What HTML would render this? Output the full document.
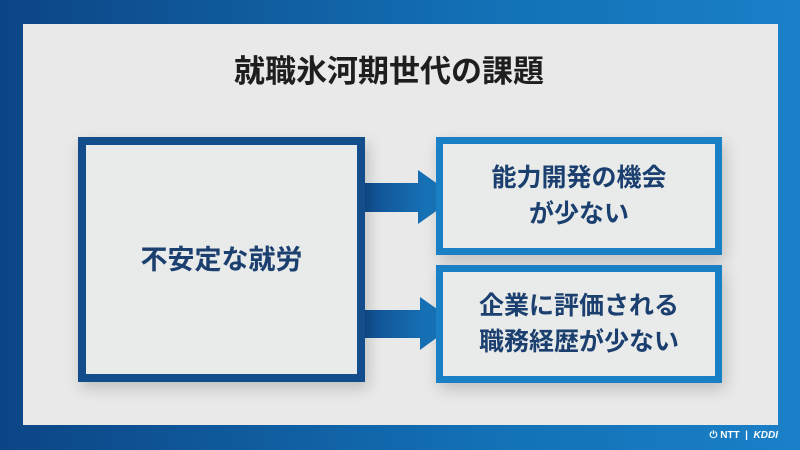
<!DOCTYPE html>
<html><head><meta charset="utf-8"><style>
body{margin:0;width:800px;height:450px;overflow:hidden;background:linear-gradient(90deg,#0c4585,#1370b5 60%,#1a80c8);font-family:"Liberation Sans","Noto Sans CJK JP",sans-serif;position:relative}
.panel{position:absolute;left:23px;top:24px;width:755px;height:401px;background:#e8e9e8}
.t{position:absolute;left:0;width:778px;top:52px;text-align:center;font-size:31px;font-weight:bold;color:#1e1e1e;line-height:40px}
.box{position:absolute;box-sizing:border-box;background:#e9ebea;display:flex;align-items:center;justify-content:center;text-align:center;font-weight:bold;color:#1b3f6f;font-size:25px;line-height:36px;box-shadow:3px 6px 14px rgba(0,0,0,.18)}
.l{left:78px;top:137px;width:287px;height:245px;border:8px solid #134d8c;font-size:27px}
.r{left:436px;width:286px;border:7px solid #1a80c6}
.foot{position:absolute;right:22px;top:430px;color:#fff;font-size:10px;font-weight:bold}
</style></head><body>
<div class="panel"></div>
<div class="t">就職氷河期世代の課題</div>
<svg style="position:absolute;left:0;top:0" width="800" height="450">
<defs><linearGradient id="g" x1="0" x2="1"><stop offset="0" stop-color="#104c8e"/><stop offset="1" stop-color="#1a82c8"/></linearGradient></defs>
<polygon points="360,183 418,183 418,170 456,197 418,224 418,212 360,212" fill="url(#g)"/>
<polygon points="360,310 420,310 420,297 457,323 420,350 420,338 360,338" fill="url(#g)"/>
</svg>
<div class="box l">不安定な就労</div>
<div class="box r" style="top:137px;height:118px">能力開発の機会<br>が少ない</div>
<div class="box r" style="top:265px;height:118px">企業に評価される<br>職務経歴が少ない</div>
<div class="foot">⏻ NTT &nbsp;|&nbsp; <i>KDDI</i></div>
</body></html>
